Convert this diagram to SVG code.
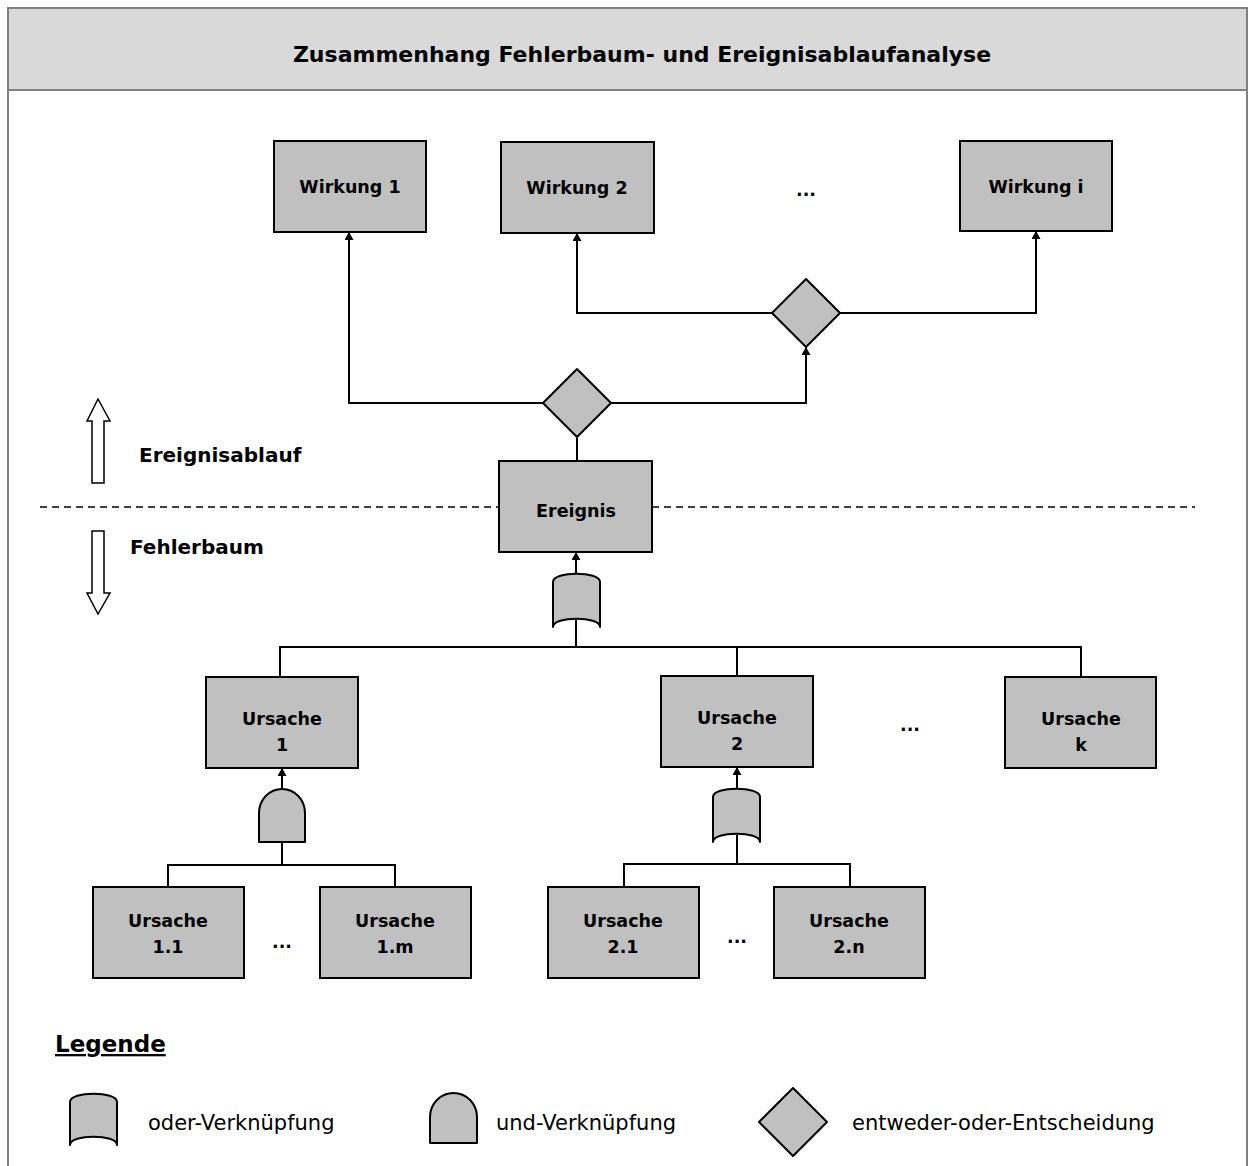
<svg xmlns="http://www.w3.org/2000/svg" width="1255" height="1166" viewBox="0 0 1255 1166">
  <style>
    text { font-family: "DejaVu Sans", "Liberation Sans", sans-serif; fill: #000; }
    .lbl { font-size: 17.5px; font-weight: bold; text-anchor: middle; }
    .side { font-size: 20px; font-weight: bold; }
    .leg { font-size: 21px; }
    .box { fill: #c0c0c0; stroke: #000; stroke-width: 2; }
    .gate { fill: #c0c0c0; stroke: #000; stroke-width: 2; stroke-linejoin: round; }
    .wire { fill: none; stroke: #000; stroke-width: 2; }
    .frame { fill: none; stroke: #808080; stroke-width: 2; }
  </style>
  <defs>
    <marker id="tip" viewBox="0 0 8 9" refX="8" refY="4.5" markerWidth="8" markerHeight="9" markerUnits="userSpaceOnUse" orient="auto">
      <path d="M0,0 L8,4.5 L0,9 z" fill="#000"/>
    </marker>
  </defs>

  <rect width="1255" height="1166" fill="#fff"/>

  <!-- frame and title bar -->
  <g id="title">
    <rect x="8" y="8" width="1239" height="82" fill="#d9d9d9"/>
    <path class="frame" d="M8,1166 V8 H1247 V1166 M8,90 H1247"/>
    <text x="642" y="62" font-size="22" font-weight="bold" text-anchor="middle">Zusammenhang Fehlerbaum- und Ereignisablaufanalyse</text>
  </g>

  <!-- separator between event sequence and fault tree -->
  <line x1="40" y1="507" x2="1195" y2="507" stroke="#000" stroke-width="1.5" stroke-dasharray="7 5"/>

  <!-- direction arrows -->
  <g id="dir-up">
    <polygon points="98,399 110,421 104,421 104,483 92,483 92,421 87,421" fill="#fff" stroke="#000" stroke-width="1.5"/>
    <text class="side" x="139" y="462">Ereignisablauf</text>
  </g>
  <g id="dir-down">
    <polygon points="92,531 104,531 104,593 110,593 98,614 87,593 92,593" fill="#fff" stroke="#000" stroke-width="1.5"/>
    <text class="side" x="130" y="554">Fehlerbaum</text>
  </g>

  <!-- connectors -->
  <g id="connectors">
    <path class="wire" d="M543,403 H349 V232" marker-end="url(#tip)"/>
    <path class="wire" d="M611,403 H806 V347" marker-end="url(#tip)"/>
    <path class="wire" d="M772,313 H577 V233" marker-end="url(#tip)"/>
    <path class="wire" d="M840,313 H1036 V231" marker-end="url(#tip)"/>
    <path class="wire" d="M577,438 V461"/>
    <path class="wire" d="M576,573 V552" marker-end="url(#tip)"/>
    <path class="wire" d="M576,620 V647"/>
    <path class="wire" d="M280,677 V647 H1081 V677 M737,647 V676"/>
    <path class="wire" d="M282,789 V768" marker-end="url(#tip)"/>
    <path class="wire" d="M282,842 V865"/>
    <path class="wire" d="M168,887 V865 H395 V887"/>
    <path class="wire" d="M737,789 V767" marker-end="url(#tip)"/>
    <path class="wire" d="M737,835 V864"/>
    <path class="wire" d="M624,887 V864 H850 V887"/>
  </g>

  <!-- effects -->
  <g id="wirkung-1">
    <rect class="box" x="274" y="141" width="152" height="91"/>
    <text class="lbl" x="350" y="193">Wirkung 1</text>
  </g>
  <g id="wirkung-2">
    <rect class="box" x="501" y="142" width="153" height="91"/>
    <text class="lbl" x="577" y="194">Wirkung 2</text>
  </g>
  <text class="lbl" x="806" y="196">...</text>
  <g id="wirkung-i">
    <rect class="box" x="960" y="141" width="152" height="90"/>
    <text class="lbl" x="1036" y="193">Wirkung i</text>
  </g>

  <!-- decisions -->
  <g id="decision-upper">
    <polygon class="gate" points="806,279 840,313 806,347 772,313"/>
  </g>
  <g id="decision-lower">
    <polygon class="gate" points="577,369 611,403 577,437 543,403"/>
  </g>

  <!-- top event -->
  <g id="ereignis">
    <rect class="box" x="499" y="461" width="153" height="91"/>
    <text class="lbl" x="576" y="517">Ereignis</text>
  </g>

  <!-- gates -->
  <g id="or-gate-top">
    <path class="gate" d="M553,627 V582 C553,571 600,571 600,582 V627 C600,616 553,616 553,627 Z"/>
  </g>
  <g id="and-gate-1">
    <path class="gate" d="M259,842 V813 A23,24 0 0 1 305,813 V842 Z"/>
  </g>
  <g id="or-gate-2">
    <path class="gate" d="M713,842 V797 C713,786 760,786 760,797 V842 C760,831 713,831 713,842 Z"/>
  </g>

  <!-- causes -->
  <g id="ursache-1">
    <rect class="box" x="206" y="677" width="152" height="91"/>
    <text class="lbl" x="282" y="725">Ursache</text>
    <text class="lbl" x="282" y="751">1</text>
  </g>
  <g id="ursache-2">
    <rect class="box" x="661" y="676" width="152" height="91"/>
    <text class="lbl" x="737" y="724">Ursache</text>
    <text class="lbl" x="737" y="750">2</text>
  </g>
  <text class="lbl" x="910" y="731">...</text>
  <g id="ursache-k">
    <rect class="box" x="1005" y="677" width="151" height="91"/>
    <text class="lbl" x="1081" y="725">Ursache</text>
    <text class="lbl" x="1081" y="751">k</text>
  </g>

  <g id="ursache-1-1">
    <rect class="box" x="93" y="887" width="151" height="91"/>
    <text class="lbl" x="168" y="927">Ursache</text>
    <text class="lbl" x="168" y="953">1.1</text>
  </g>
  <text class="lbl" x="282" y="948">...</text>
  <g id="ursache-1-m">
    <rect class="box" x="320" y="887" width="151" height="91"/>
    <text class="lbl" x="395" y="927">Ursache</text>
    <text class="lbl" x="395" y="953">1.m</text>
  </g>
  <g id="ursache-2-1">
    <rect class="box" x="548" y="887" width="151" height="91"/>
    <text class="lbl" x="623" y="927">Ursache</text>
    <text class="lbl" x="623" y="953">2.1</text>
  </g>
  <text class="lbl" x="737" y="943">...</text>
  <g id="ursache-2-n">
    <rect class="box" x="774" y="887" width="151" height="91"/>
    <text class="lbl" x="849" y="927">Ursache</text>
    <text class="lbl" x="849" y="953">2.n</text>
  </g>

  <!-- legend -->
  <g id="legend">
    <text x="55" y="1052" font-size="23" font-weight="bold" text-decoration="underline">Legende</text>
    <path class="gate" d="M70,1145 V1102 C70,1091 117,1091 117,1102 V1145 C117,1134 70,1134 70,1145 Z"/>
    <text class="leg" x="148" y="1130">oder-Verknüpfung</text>
    <path class="gate" d="M430,1143 V1117 A23.5,24 0 0 1 477,1117 V1143 Z"/>
    <text class="leg" x="496" y="1130">und-Verknüpfung</text>
    <polygon class="gate" points="793,1088 827,1122 793,1156 759,1122"/>
    <text class="leg" x="852" y="1130">entweder-oder-Entscheidung</text>
  </g>
</svg>
